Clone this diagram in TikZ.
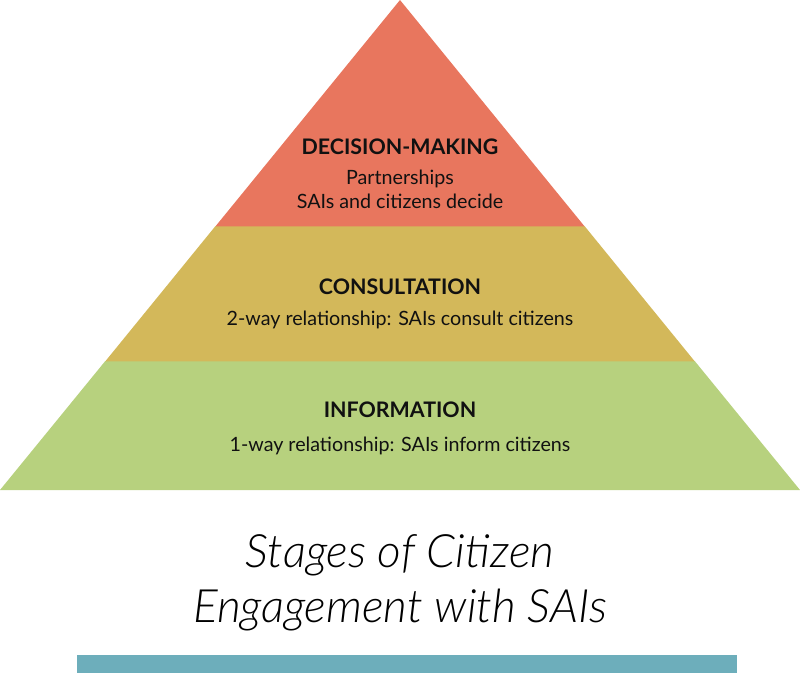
\documentclass[tikz,border=0pt]{standalone}
\usepackage{fontspec}
\setmainfont{Lato}
\newfontfamily\titlefont{Lato Light Italic}
\definecolor{redband}{HTML}{E8765E}
\definecolor{yellowband}{HTML}{D3B85A}
\definecolor{greenband}{HTML}{B7D17E}
\definecolor{tealbar}{HTML}{6DAEBB}
\definecolor{txt}{HTML}{111111}
\tikzset{
  head/.style={anchor=base, inner sep=0pt, text=txt, font=\fontsize{21.4}{25}\selectfont\bfseries},
  body/.style={anchor=base, inner sep=0pt, text=txt, font=\fontsize{19.7}{23}\selectfont},
  ttl/.style={anchor=base, inner sep=0pt, text=black, font=\fontsize{46}{55}\selectfont\titlefont},
}
\begin{document}
\begin{tikzpicture}[x=1pt,y=-1pt]
\useasboundingbox (0,0) rectangle (800,673);
% pyramid bands
\fill[greenband] (0,490) -- (800,490) -- (694.7,361) -- (105.3,361) -- cycle;
\fill[yellowband] (105.3,361.3) -- (694.7,361.3) -- (584.5,226) -- (215.5,226) -- cycle;
\fill[redband] (215.5,226.3) -- (584.5,226.3) -- (400,0) -- cycle;
% texts
\node[head] (dm) at (400,154) {DECISION-MAKING};
\node[body] (dm1) at (400,184) {Partnerships};
\node[body] (dm2) at (400,208) {SAIs and citizens decide};
\node[head] (co) at (400,294) {CONSULTATION};
\node[body] (co1) at (400,325) {2-way relationship: SAIs consult citizens};
\node[head] (in) at (400,417) {INFORMATION};
\node[body] (in1) at (400,451) {1-way relationship: SAIs inform citizens};
\node[ttl] (t1) at (400,567) {Stages of Citizen};
\node[ttl] (t2) at (400,622) {Engagement with SAIs};
% bar
\fill[tealbar] (77,655) rectangle (737,673);
\end{tikzpicture}
\end{document}
